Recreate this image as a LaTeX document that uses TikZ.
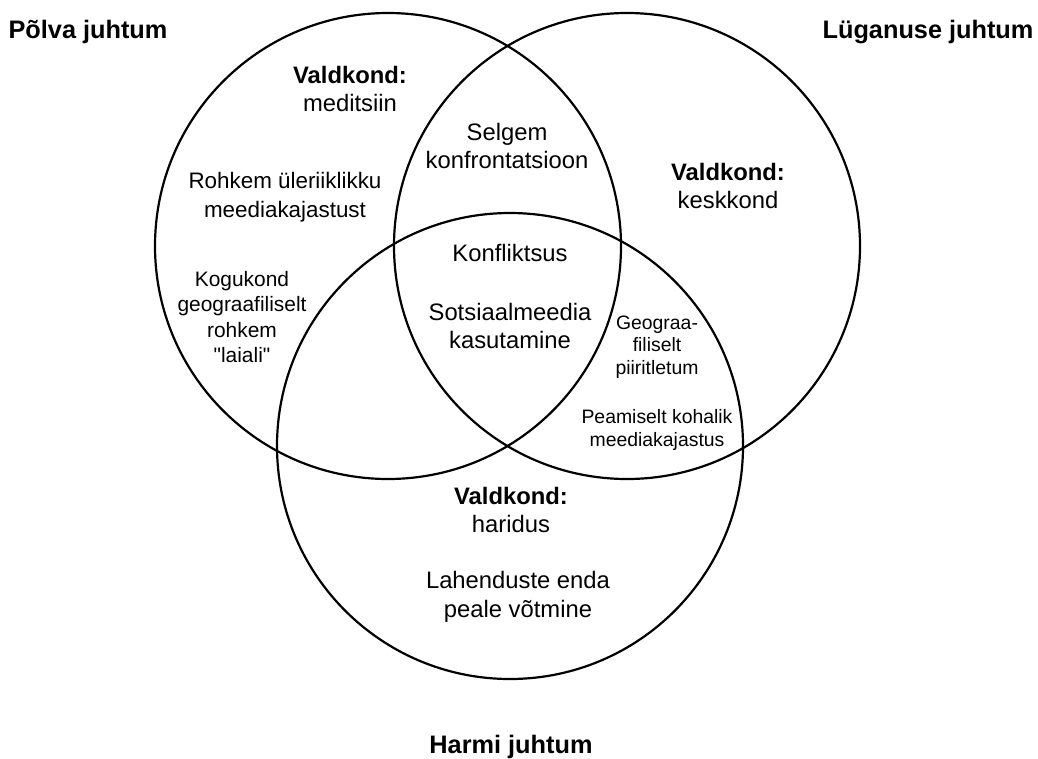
\documentclass[tikz,border=0pt]{standalone}
\usepackage{fontspec}
\setmainfont{Liberation Sans}[Ligatures=TeXOff]
\begin{document}
\begin{tikzpicture}[x=1pt,y=-1pt,
  ring/.style={circle,draw=black,line width=2.2pt,minimum size=466pt,inner sep=0pt},
  title/.style={font=\bfseries\fontsize{25.3}{30}\selectfont,inner sep=0pt},
  body/.style={align=center,inner sep=0pt,font=\fontsize{23.8}{28.8}\selectfont},
  bodyb/.style={align=center,inner sep=0pt,font=\fontsize{22.4}{28.5}\selectfont},
  bodyc/.style={align=center,inner sep=0pt,font=\fontsize{20.9}{25.4}\selectfont},
  small/.style={align=center,inner sep=0pt,font=\fontsize{19.4}{22.6}\selectfont}]
\path[use as bounding box] (0,0) rectangle (1038,758);
\node[ring] (L) at (388,246) {};
\node[ring] (R) at (627,246) {};
\node[ring] (B) at (510,446) {};
\node[title,anchor=base] (t1) at (88,38) {Põlva juhtum};
\node[title,anchor=base] (t2) at (928,38) {Lüganuse juhtum};
\node[title,anchor=base] (t3) at (511,753) {Harmi juhtum};
\node[body] (v1) at (350,89) {\textbf{Valdkond:}\\meditsiin};
\node[body] (v2) at (728,186) {\textbf{Valdkond:}\\keskkond};
\node[body] (v3) at (511,510) {\textbf{Valdkond:}\\haridus};
\node[body] (sel) at (507,146) {Selgem\\konfrontatsioon};
\node[bodyb] (roh) at (285,197) {Rohkem üleriiklikku\\meediakajastust};
\node[body] (kon) at (510,253) {Konfliktsus};
\node[body] (sot) at (510,326) {Sotsiaalmeedia\\kasutamine};
\node[bodyc] (kog) at (242,317) {Kogukond\\geograafiliselt\\rohkem\\"laiali"};
\node[small] (geo) at (657,347) {Geograa-\\filiselt\\piiritletum};
\node[small] (pea) at (657,430) {Peamiselt kohalik\\meediakajastus};
\node[body] (lah) at (518,597) {Lahenduste enda\\peale võtmine};
\end{tikzpicture}
\end{document}
